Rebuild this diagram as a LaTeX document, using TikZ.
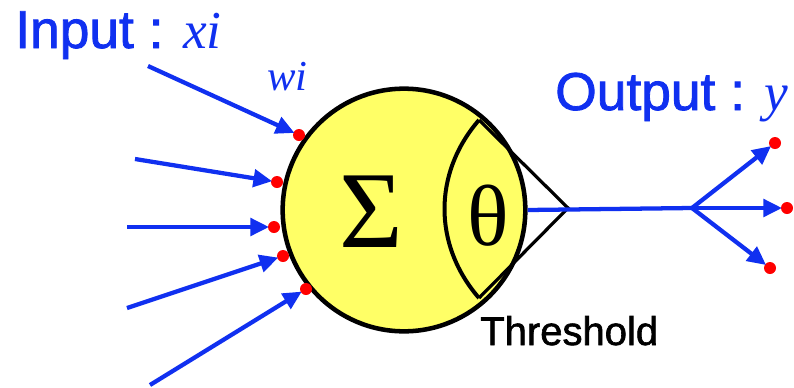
\documentclass[tikz,border=0pt]{standalone}
\usepackage{fontspec}
\setmainfont[FakeBold=1.5]{Liberation Sans}
\newfontfamily\seriffont{Liberation Serif}
\usetikzlibrary{arrows.meta}
\definecolor{nblue}{RGB}{16,48,240}
\definecolor{nyellow}{RGB}{255,255,102}
\definecolor{nred}{RGB}{255,0,0}
\tikzset{
  x=0.75pt, y=-0.75pt,
  dot/.style={circle, fill=nred, inner sep=0pt, minimum size=9pt},
  inarrow/.style={draw=nblue, line width=3.2pt, -{Triangle[length=14pt,width=13pt]}, shorten >=-1pt},
  bluelabel/.style={text=nblue, inner sep=0pt, anchor=base west},
  blackline/.style={draw=black, line width=2.4pt},
}
\begin{document}
\begin{tikzpicture}
\useasboundingbox (0,0) rectangle (794,387);
% neuron body
\node[circle, draw=black, line width=3.4pt, fill=nyellow, minimum size=182pt, inner sep=0pt] (neuron) at (404,210) {};
% threshold lens and triangle
\coordinate (lt) at (479,120);
\coordinate (lb) at (479,298);
\coordinate (apex) at (568,208);
\draw[draw=black, line width=3pt] (lt) .. controls (433,173) and (433,245) .. (lb);
\draw[blackline, line join=miter] (lt) -- (apex) -- (lb);
% symbols
\node[inner sep=0pt, anchor=base] (sigma) at (371,247) {\seriffont\fontsize{82}{90}\selectfont Σ};
\node[inner sep=0pt, anchor=base] (theta) at (488,245) {\seriffont\fontsize{65}{70}\selectfont θ};
% input dots
\node[dot] (d1) at (299,135) {};
\node[dot] (d2) at (277,182) {};
\node[dot] (d3) at (274,227) {};
\node[dot] (d4) at (283,256) {};
\node[dot] (d5) at (306,289) {};
% input starts
\coordinate (s1) at (148,66);
\coordinate (s2) at (135,159);
\coordinate (s3) at (127,227);
\coordinate (s4) at (127,308);
\coordinate (s5) at (150,385);
\foreach \i in {1,...,5} \draw[inarrow] (s\i) -- (d\i);
% output
\coordinate (branch) at (692,208);
\node[dot] (o1) at (775,143) {};
\node[dot] (o2) at (787,208) {};
\node[dot] (o3) at (770,268) {};
\draw[draw=nblue, line width=3.2pt] (neuron.east) -- (branch);
\draw[inarrow] (branch) -- (o1);
\draw[inarrow] (branch) -- (o2);
\draw[inarrow] (branch) -- (o3);
% labels
\node[bluelabel] (inlabel) at (15,48) {\fontsize{40}{48}\selectfont Input : {\seriffont\itshape xi}};
\node[bluelabel] (outlabel) at (555,110) {\fontsize{40}{48}\selectfont Output : {\seriffont\itshape y}};
\node[bluelabel] (wlabel) at (267,90) {\seriffont\itshape\fontsize{32}{38}\selectfont wi};
\node[inner sep=0pt, anchor=base west] (thr) at (480,345) {\fontsize{30}{36}\selectfont Threshold};
\end{tikzpicture}
\end{document}
